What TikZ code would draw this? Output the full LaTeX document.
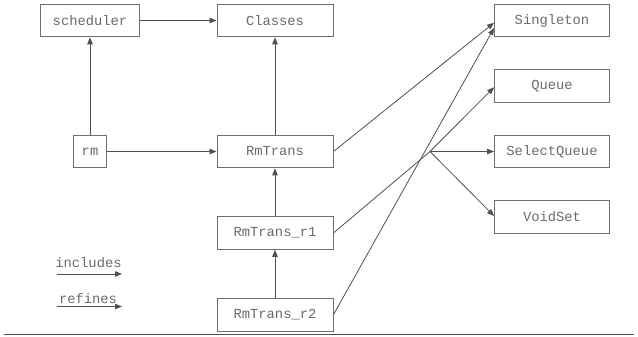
\documentclass[tikz,border=0pt]{standalone}
\usepackage{fontspec}
\setmonofont{Liberation Mono}
\usetikzlibrary{arrows.meta,calc}
\definecolor{boxline}{HTML}{6E6E6E}
\definecolor{txt}{HTML}{6A6A6A}
\definecolor{edge}{HTML}{505050}
\tikzset{
  box/.style={draw=boxline, line width=0.9bp, inner sep=0pt, minimum height=32.7bp,
    text=txt, font=\ttfamily\fontsize{13.8bp}{15bp}\selectfont},
  lbl/.style={inner sep=0pt, text=txt, font=\ttfamily\fontsize{13.8bp}{15bp}\selectfont},
  arr/.style={draw=edge, line width=0.8bp, -{Triangle[length=7bp,width=5.5bp]}},
  ln/.style={draw=edge, line width=0.8bp}
}
\begin{document}
\begin{tikzpicture}[x=1bp,y=-1bp]
\useasboundingbox (0,0) rectangle (638,336);
\node[box, minimum width=98.6bp] (sch) at (90,20.5) {scheduler};
\node[box, minimum width=116bp] (cls) at (275,20.5) {Classes};
\node[box, minimum width=33.4bp] (rm) at (90,151.5) {rm};
\node[box, minimum width=116bp] (rmt) at (275,151.5) {RmTrans};
\node[box, minimum width=116bp] (r1) at (275,233) {RmTrans\_r1};
\node[box, minimum width=116bp] (r2) at (275,314.7) {RmTrans\_r2};
\node[box, minimum width=115bp] (sing) at (552,20.5) {Singleton};
\node[box, minimum width=115bp] (que) at (552,85.8) {Queue};
\node[box, minimum width=115bp] (sq) at (552,151.5) {SelectQueue};
\node[box, minimum width=115bp] (vs) at (552,217) {VoidSet};
\coordinate (j) at (430,151.5);
\coordinate (s1) at ($(sing.west)+(0,2.2)$);
\coordinate (s2) at ($(sing.west)+(0,7.5)$);
\coordinate (qv) at ($(vs.west)+(0,-1)$);
\draw[arr] (sch) -- (cls);
\draw[arr] (rm) -- (sch);
\draw[arr] (rm) -- (rmt);
\draw[arr] (rmt) -- (cls);
\draw[arr] (r1) -- (rmt);
\draw[arr] (r2) -- (r1);
\draw[arr] (rmt.east) -- (s1);
\draw[arr] (r2.east) -- (s2);
\draw[ln] (r1.east) -- (j);
\draw[arr] (j) -- ($(que.west)+(0,1.5)$);
\draw[arr] (j) -- (sq.west);
\draw[arr] (j) -- (qv);
% legend
\node[lbl] (inc) at (88.5,263) {includes};
\coordinate (ia) at (57,274);
\coordinate (ib) at (122,274);
\draw[arr] (ia) -- (ib);
\node[lbl] (ref) at (88,298.5) {refines};
\coordinate (ra) at (57,306.5);
\coordinate (rb) at (122,306.5);
\draw[arr] (ra) -- (rb);
% bottom rule
\coordinate (la) at (4,334.7);
\coordinate (lb) at (634,334.7);
\draw[draw=edge, line width=1.2bp] (la) -- (lb);
\end{tikzpicture}
\end{document}
